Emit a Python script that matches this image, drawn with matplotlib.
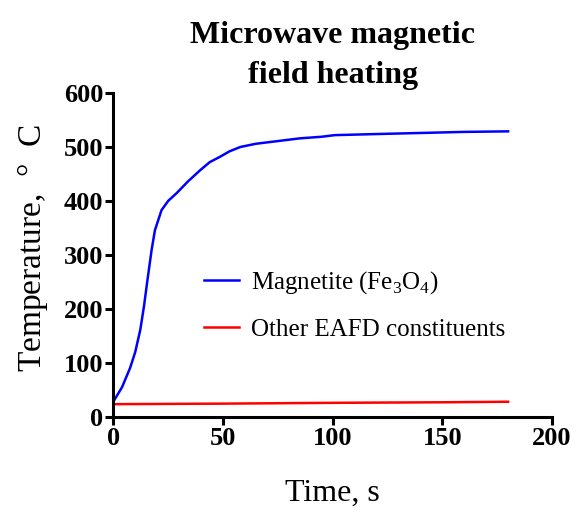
import matplotlib
matplotlib.use("Agg")
import matplotlib.pyplot as plt

plt.rcParams['font.family'] = ['Liberation Serif', 'DejaVu Serif']
plt.rcParams['mathtext.fontset'] = 'custom'
plt.rcParams['mathtext.rm'] = 'Liberation Serif'

# Magnetite heating curve
t_mag = [0, 4, 7.7, 10, 12.3, 14, 15.6, 17.5, 19, 22, 25, 29, 34, 39.6, 44, 48.7, 53, 57.9,
         65, 75, 85, 95, 101, 120, 140, 160, 180]
T_mag = [28, 55, 91, 120, 161, 205, 254, 310, 346, 383, 400, 415, 436, 457, 472, 482, 492, 500,
         506, 511, 516, 519, 522, 524, 526, 528, 529]

# Other EAFD constituents
t_oth = [0, 50, 100, 150, 180]
T_oth = [23.5, 24.5, 26, 27, 28]

fig = plt.figure(figsize=(5.75, 5.14), dpi=100)
ax = fig.add_axes([0.197, 0.189, 0.763, 0.63])

ax.plot(t_mag, T_mag, color='blue', lw=1.8, label='Magnetite (Fe$_3$O$_4$)')
ax.plot(t_oth, T_oth, color='red', lw=1.8, label='Other EAFD constituents')

ax.set_xlim(0, 200)
ax.set_ylim(0, 600)
ax.set_xticks([0, 50, 100, 150, 200])
ax.set_yticks([0, 100, 200, 300, 400, 500, 600])

for s in ['top', 'right']:
    ax.spines[s].set_visible(False)
for s in ['left', 'bottom']:
    ax.spines[s].set_linewidth(2.2)
ax.tick_params(width=2.2, length=6, labelsize=19, pad=1)
for lab in ax.get_xticklabels() + ax.get_yticklabels():
    lab.set_fontweight('bold')

ax.set_xlabel('Time, s', fontsize=23, labelpad=21)
ax.set_ylabel('Temperature,  $\\degree$  C', fontsize=24)
ax.yaxis.set_label_coords(-0.145, 0.52)
ax.set_title('Microwave magnetic\nfield heating', fontsize=23, fontweight='bold',
             linespacing=1.5, pad=7)

ax.legend(loc='upper left', bbox_to_anchor=(0.155, 0.525), frameon=False, fontsize=18,
          handlelength=1.4, handletextpad=0.5, labelspacing=0.9)

fig.savefig('out.png', dpi=100)
